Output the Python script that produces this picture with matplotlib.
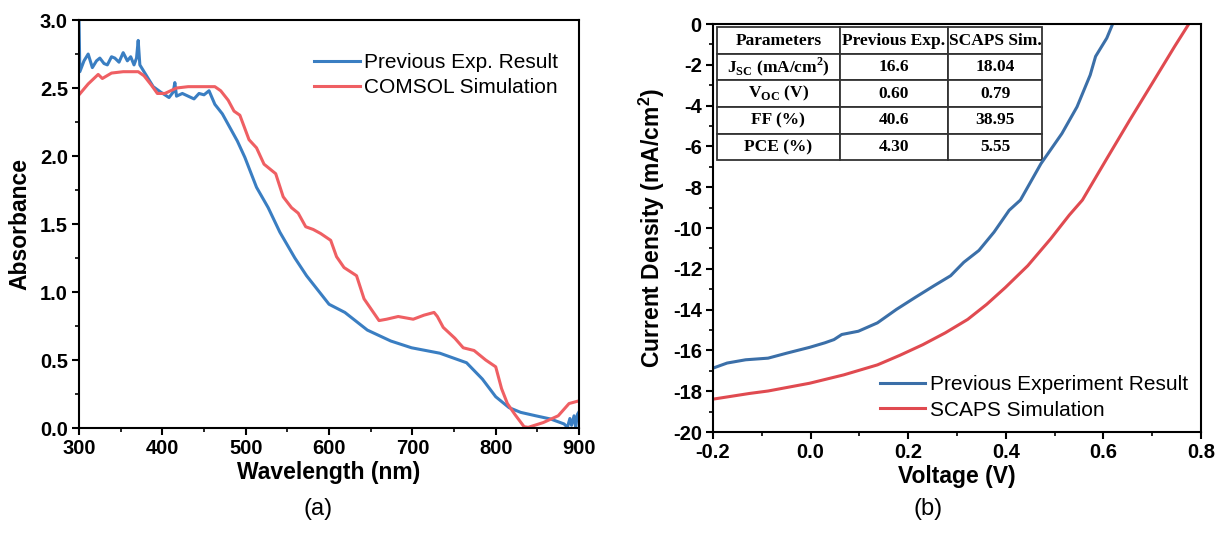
import matplotlib
matplotlib.use("Agg")
import matplotlib.pyplot as plt
from matplotlib.ticker import MultipleLocator, AutoMinorLocator

plt.rcParams["font.family"] = ["Liberation Sans", "DejaVu Sans"]
plt.rcParams["axes.unicode_minus"] = False
plt.rcParams["mathtext.fontset"] = "custom"
plt.rcParams["mathtext.rm"] = "Liberation Serif:bold"
plt.rcParams["mathtext.bf"] = "Liberation Sans:bold"

# (a) absorbance data
exp_wl = [300, 301, 306, 311, 316, 321, 325, 330, 334, 339, 343, 348, 353, 358, 362, 366,
          369, 371, 373, 380, 389, 398, 408, 413, 415, 417, 424, 431, 438, 444, 450, 456,
          463, 472, 481, 490, 499, 506, 513, 527, 541, 559, 573, 582, 600, 619, 646, 674,
          699, 733, 765, 784, 800, 816, 830, 848, 866, 882, 886, 889, 891, 894, 896, 898, 900]
exp_abs = [3.0, 2.62, 2.70, 2.75, 2.65, 2.70, 2.72, 2.68, 2.67, 2.73, 2.72, 2.69, 2.76, 2.70,
           2.73, 2.67, 2.72, 2.85, 2.67, 2.60, 2.51, 2.47, 2.43, 2.47, 2.54, 2.44, 2.46, 2.44,
           2.42, 2.46, 2.45, 2.48, 2.38, 2.31, 2.21, 2.11, 1.99, 1.88, 1.77, 1.62, 1.44, 1.25,
           1.12, 1.05, 0.91, 0.85, 0.72, 0.64, 0.59, 0.55, 0.48, 0.36, 0.23, 0.15, 0.115, 0.09,
           0.066, 0.03, 0.005, 0.07, 0.02, 0.09, 0.005, 0.10, 0.12]

sim_wl = [300, 311, 323, 328, 339, 353, 371, 378, 387, 394, 403, 417, 431, 444, 463, 470,
          479, 486, 493, 504, 513, 522, 536, 545, 555, 563, 572, 581, 590, 602, 609, 618,
          633, 642, 660, 669, 683, 701, 714, 726, 730, 737, 751, 761, 774, 788, 800, 807,
          814, 823, 834, 839, 857, 875, 888, 900]
sim_abs = [2.45, 2.53, 2.60, 2.57, 2.61, 2.62, 2.62, 2.59, 2.52, 2.46, 2.46, 2.50, 2.51, 2.51,
           2.51, 2.48, 2.41, 2.33, 2.30, 2.12, 2.06, 1.94, 1.87, 1.70, 1.62, 1.58, 1.48, 1.46,
           1.43, 1.38, 1.26, 1.18, 1.12, 0.95, 0.79, 0.80, 0.82, 0.80, 0.83, 0.85, 0.82, 0.74,
           0.66, 0.59, 0.57, 0.50, 0.45, 0.29, 0.18, 0.10, 0.01, 0.005, 0.04, 0.09, 0.18, 0.20]

# (b) J-V data
exp_v = [-0.2, -0.171, -0.133, -0.087, -0.048, -0.002, 0.029, 0.048, 0.064, 0.098, 0.137,
         0.176, 0.214, 0.253, 0.287, 0.314, 0.345, 0.376, 0.407, 0.43, 0.472, 0.515, 0.546,
         0.573, 0.584, 0.607, 0.619]
exp_j = [-16.87, -16.62, -16.46, -16.38, -16.13, -15.85, -15.63, -15.47, -15.22, -15.06,
         -14.65, -13.99, -13.41, -12.83, -12.34, -11.68, -11.10, -10.20, -9.13, -8.63, -6.85,
         -5.37, -4.06, -2.50, -1.59, -0.69, 0.0]

sim_v = [-0.2, -0.125, -0.087, -0.002, 0.068, 0.137, 0.183, 0.23, 0.276, 0.322, 0.361, 0.399,
         0.445, 0.492, 0.53, 0.557, 0.607, 0.654, 0.70, 0.746, 0.775]
sim_j = [-18.39, -18.11, -17.99, -17.61, -17.20, -16.71, -16.24, -15.72, -15.14, -14.48,
         -13.74, -12.92, -11.85, -10.53, -9.37, -8.63, -6.60, -4.71, -2.91, -1.10, 0.0]

table_cols = ["Parameters", "Previous Exp.", "SCAPS Sim."]
table_rows = [
    [r"J$_{\mathrm{SC}}$ (mA/cm$^{\mathrm{2}}$)", "16.6", "18.04"],
    [r"V$_{\mathrm{OC}}$ (V)", "0.60", "0.79"],
    ["FF (%)", "40.6", "38.95"],
    ["PCE (%)", "4.30", "5.55"],
]

LABEL_FONT = {"fontsize": 16.5, "fontweight": "bold"}


def style_axes(ax):
    for sp in ax.spines.values():
        sp.set_linewidth(1.5)
    ax.tick_params(which="major", direction="out", length=5, width=1.5, labelsize=14.5, pad=3)
    ax.tick_params(which="minor", direction="out", length=3, width=1.2)
    for lbl in ax.get_xticklabels() + ax.get_yticklabels():
        lbl.set_fontweight("bold")


fig = plt.figure(figsize=(12.25, 5.53), dpi=100)
ax1 = fig.add_axes([0.0645, 0.2260, 0.4082, 0.7378])
ax2 = fig.add_axes([0.5820, 0.2188, 0.3984, 0.7378])

ax1.plot(exp_wl, exp_abs, color="#3a7ec2", lw=2.2, label="Previous Exp. Result")
ax1.plot(sim_wl, sim_abs, color="#ef5f63", lw=2.2, label="COMSOL Simulation")
ax1.set_xlim(300, 900)
ax1.set_ylim(0, 3.0)
ax1.xaxis.set_major_locator(MultipleLocator(100))
ax1.xaxis.set_minor_locator(AutoMinorLocator(2))
ax1.yaxis.set_major_locator(MultipleLocator(0.5))
ax1.yaxis.set_minor_locator(AutoMinorLocator(2))
style_axes(ax1)
ax1.set_xlabel("Wavelength (nm)", labelpad=2, **LABEL_FONT)
ax1.set_ylabel("Absorbance", labelpad=6, **LABEL_FONT)
ax1.legend(loc="upper right", bbox_to_anchor=(0.975, 0.94), frameon=False, fontsize=15,
           handlelength=2.2, handletextpad=0.2, labelspacing=0.3, borderaxespad=0)

ax2.plot(exp_v, exp_j, color="#3b6fa8", lw=2.2, label="Previous Experiment Result")
ax2.plot(sim_v, sim_j, color="#e04a50", lw=2.2, label="SCAPS Simulation")
ax2.set_xlim(-0.2, 0.8)
ax2.set_ylim(-20, 0)
ax2.xaxis.set_major_locator(MultipleLocator(0.2))
ax2.xaxis.set_minor_locator(AutoMinorLocator(2))
ax2.yaxis.set_major_locator(MultipleLocator(2))
ax2.yaxis.set_minor_locator(AutoMinorLocator(2))
ax2.xaxis.set_major_formatter(plt.FuncFormatter(lambda v, p: f"{v:.1f}"))
ax2.yaxis.set_major_formatter(plt.FuncFormatter(lambda v, p: f"{v:.0f}"))
style_axes(ax2)
ax2.set_xlabel("Voltage (V)", labelpad=2, **LABEL_FONT)
ax2.set_ylabel("Current Density (mA/cm$^\\mathbf{2}$)", labelpad=4, **LABEL_FONT)
ax2.legend(loc="lower right", bbox_to_anchor=(0.99, 0.01), frameon=False, fontsize=15,
           handlelength=2.2, handletextpad=0.2, labelspacing=0.3, borderaxespad=0)

# parameter table
tbl = ax2.table(cellText=table_rows, colLabels=table_cols, cellLoc="center",
                bbox=[0.008, 0.666, 0.667, 0.326], colWidths=[0.378, 0.332, 0.29])
tbl.auto_set_font_size(False)
for (r, c), cell in tbl.get_celld().items():
    cell.set_edgecolor("#333333")
    cell.set_linewidth(1.3)
    cell.set_facecolor("white")
    cell.PAD = 0.02
    cell.get_text().set_fontfamily(["Liberation Serif", "DejaVu Serif"])
    cell.get_text().set_fontweight("bold")
    cell.get_text().set_fontsize(12.5)

fig.text(0.26, 0.08, "(a)", fontsize=17, ha="center", va="center")
fig.text(0.758, 0.08, "(b)", fontsize=17, ha="center", va="center")

fig.savefig("out.png", dpi=100)
